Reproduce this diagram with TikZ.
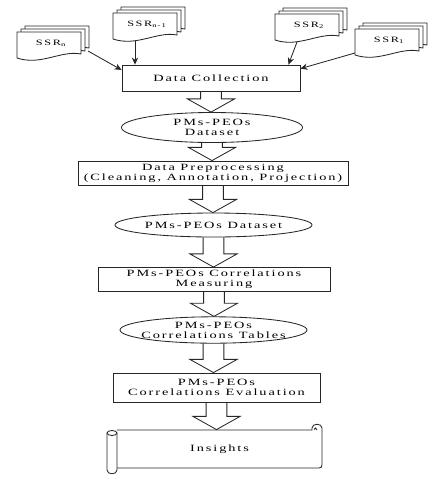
\documentclass[tikz,border=0pt]{standalone}
\usepackage{fontspec}
\newfontfamily\flowfont[FakeStretch=1.5,LetterSpace=20]{Liberation Serif}
\usetikzlibrary{shapes.geometric,arrows.meta,calc}

\newcommand{\flowtext}{\flowfont\fontsize{6.8}{7.2}\selectfont}
\newcommand{\ssrtext}{\flowfont\fontsize{5.8}{7}\selectfont}

\tikzset{
  flowline/.style={draw=black!85, line width=0.6pt},
  procbox/.style={flowline, rectangle, inner sep=0pt, align=center, font=\flowtext},
  databox/.style={flowline, ellipse, inner sep=-12pt, align=center, font=\flowtext},
  docnode/.style={inner sep=0pt, minimum width=1.6cm, minimum height=0.5cm, font=\ssrtext},
  feed/.style={flowline, -{Stealth[length=5pt,width=4.5pt]}},
  fatarr/.style={flowline},
}

% stack of three report pages, front page top-left at (#2,#3)
\newcommand{\ssrstack}[4]{%
  \foreach \off in {8,4,0}
    \filldraw[flowline, fill=white] (#2+\off,#3-0.75*\off) -- ++(64,0) -- ++(0,22)
      .. controls +(-20,-4) and +(24,8) .. ++(-64,4) -- cycle;
  \node[docnode] (#1) at (#2+34,#3+11) {#4};
  \coordinate (#1-r) at (#2+71,#3+19);
  \coordinate (#1-b) at (#2+22,#3+28);
  \coordinate (#1-l) at (#2,#3+24);
}

% hollow block arrow from one step to the next
\newcommand{\fatarrow}[2]{%
  \draw[fatarr] let \p1=(#1.south), \p2=(#2.north) in
    (\x1-0.26cm,\y1) -- (\x1-0.26cm,\y2+0.33cm) -- (\x1-0.59cm,\y2+0.33cm)
    -- (\x1,\y2) -- (\x1+0.59cm,\y2+0.33cm) -- (\x1+0.26cm,\y2+0.33cm) -- (\x1+0.26cm,\y1);
}

\begin{document}
\begin{tikzpicture}[x=0.025cm, y=-0.025cm]
  \useasboundingbox (0,0) rectangle (436,483);

  % -- Source reports --
  \ssrstack{ssrn}{17}{32}{SSR\textsubscript{n}}
  \ssrstack{ssrnm}{113}{13}{SSR\textsubscript{n-1}}
  \ssrstack{ssrtwo}{275}{14}{SSR\textsubscript{2}}
  \ssrstack{ssrone}{355}{29}{SSR\textsubscript{1}}

  % -- Process chain --
  \node[procbox, minimum width=4.45cm, minimum height=0.65cm] (collect) at (211,78) {Data Collection};
  \node[databox, minimum width=4.525cm, minimum height=0.75cm] (rawset) at (212,127.5) {PMs-PEOs\\Dataset};
  \node[procbox, minimum width=6.75cm, minimum height=0.6cm] (prep) at (213,173) {Data Preprocessing\\(Cleaning, Annotation, Projection)};
  \node[databox, minimum width=4.925cm, minimum height=0.6cm] (cleanset) at (213.5,225) {PMs-PEOs Dataset};
  \node[procbox, minimum width=5.8cm, minimum height=0.6cm] (measure) at (214,279.5) {PMs-PEOs Correlations\\Measuring};
  \node[databox, minimum width=4.675cm, minimum height=0.66cm] (corrtab) at (213.5,330) {PMs-PEOs\\Correlations Tables};
  \node[procbox, minimum width=5.175cm, minimum height=0.725cm] (evaluate) at (216.5,387.5) {PMs-PEOs\\Correlations Evaluation};

  % -- Insights scroll --
  \filldraw[flowline, fill=white] (117,430) -- (312,430) -- (312,428)
    .. controls (312,423) and (322,423) .. (322,428) -- (322,465)
    .. controls (322,467) and (321,468) .. (319,468) -- (117,468);
  \draw[flowline] (317,430) .. controls (317,427.5) and (314,427.5) .. (314,429.5);
  \filldraw[flowline, fill=white] (107,433) -- (107,470)
    .. controls (107,475) and (117,475) .. (117,470) -- (117,433);
  \filldraw[flowline, fill=white] (112,433) ellipse [x radius=5, y radius=2.5];
  \node[procbox, draw=none, minimum width=5.125cm, minimum height=0.95cm] (insights) at (219.5,449) {Insights};

  % -- Feeds into collection --
  \draw[feed] (ssrn-r) -- ($(collect.north west)!0.2!(collect.south west)$);
  \draw[feed] (ssrnm-b) -- (ssrnm-b |- collect.north);
  \draw[feed] (ssrtwo-b) -- ($(collect.north east)+(-12,0)$);
  \draw[feed] (ssrone-l) -- ($(collect.north east)!0.15!(collect.south east)$);

  % -- Block arrows --
  \fatarrow{collect}{rawset}
  \fatarrow{rawset}{prep}
  \fatarrow{prep}{cleanset}
  \fatarrow{cleanset}{measure}
  \fatarrow{measure}{corrtab}
  \fatarrow{corrtab}{evaluate}
  \fatarrow{evaluate}{insights}

\end{tikzpicture}
\end{document}
